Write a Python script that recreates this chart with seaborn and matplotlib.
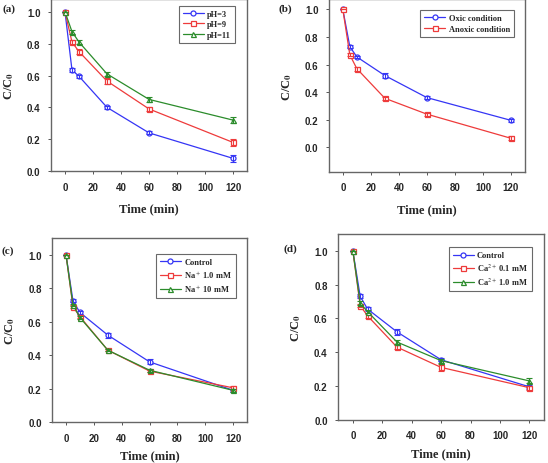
import numpy as np
import pandas as pd
import matplotlib.pyplot as plt
import seaborn as sns

sns.set_style("ticks")
plt.rcParams["font.family"] = ["Liberation Serif", "DejaVu Serif"]
plt.rcParams["mathtext.fontset"] = "stix"

## DATA
time = [0, 5, 10, 30, 60, 120]

# (a) pH effect
ph3 = [1.0, 0.635, 0.595, 0.40, 0.24, 0.08]
ph9 = [1.0, 0.81, 0.75, 0.565, 0.39, 0.18]
ph11 = [1.0, 0.875, 0.81, 0.61, 0.45, 0.32]
ph3_err = [0.0, 0.015, 0.01, 0.01, 0.01, 0.02]
ph9_err = [0.0, 0.015, 0.015, 0.02, 0.01, 0.02]
ph11_err = [0.0, 0.012, 0.01, 0.012, 0.015, 0.02]

# (b) oxic / anoxic
oxic = [1.0, 0.73, 0.655, 0.52, 0.36, 0.195]
anoxic = [1.0, 0.67, 0.57, 0.355, 0.24, 0.065]
oxic_err = [0.0, 0.01, 0.01, 0.015, 0.01, 0.01]
anoxic_err = [0.0, 0.01, 0.015, 0.01, 0.01, 0.015]

# (c) Na+
na_control = [1.0, 0.725, 0.655, 0.52, 0.36, 0.19]
na_1 = [1.0, 0.69, 0.63, 0.43, 0.305, 0.205]
na_10 = [1.0, 0.70, 0.625, 0.43, 0.31, 0.19]
na_control_err = [0.0, 0.01, 0.01, 0.015, 0.015, 0.01]
na_1_err = [0.0, 0.01, 0.01, 0.008, 0.008, 0.008]
na_10_err = [0.0, 0.008, 0.008, 0.008, 0.008, 0.008]

# (d) Ca2+
ca_control = [1.0, 0.73, 0.655, 0.52, 0.355, 0.195]
ca_01 = [1.0, 0.675, 0.615, 0.43, 0.31, 0.19]
ca_1 = [1.0, 0.69, 0.64, 0.46, 0.35, 0.23]
ca_control_err = [0.0, 0.012, 0.012, 0.018, 0.01, 0.01]
ca_01_err = [0.0, 0.01, 0.01, 0.012, 0.02, 0.012]
ca_1_err = [0.0, 0.01, 0.01, 0.01, 0.012, 0.015]

BLUE = "#3535f5"
RED = "#ee3b3b"
GREEN = "#2b8c2b"

panels = [
    {
        "label": "(a)",
        "rect": [0.093, 0.629, 0.358, 0.371],
        "ylim": (0, 1.08),
        "series": [("pH=3", ph3, ph3_err, BLUE, "o"),
                   ("pH=9", ph9, ph9_err, RED, "s"),
                   ("pH=11", ph11, ph11_err, GREEN, "^")],
        "legend_anchor": (0.96, 0.985),
        "label_pos": (0.005, 0.99),
        "xlabelpad": 8,
    },
    {
        "label": "(b)",
        "rect": [0.600, 0.627, 0.358, 0.373],
        "ylim": (-0.18, 1.075),
        "series": [("Oxic condition", oxic, oxic_err, BLUE, "o"),
                   ("Anoxic condition", anoxic, anoxic_err, RED, "s")],
        "legend_anchor": (0.965, 0.96),
        "label_pos": (0.508, 0.99),
        "xlabelpad": 8,
    },
    {
        "label": "(c)",
        "rect": [0.095, 0.088, 0.356, 0.397],
        "ylim": (0, 1.1),
        "series": [("Control", na_control, na_control_err, BLUE, "o"),
                   ("Na$^+$ 1.0 mM", na_1, na_1_err, RED, "s"),
                   ("Na$^+$ 10 mM", na_10, na_10_err, GREEN, "^")],
        "legend_anchor": (0.965, 0.935),
        "label_pos": (0.003, 0.468),
        "xlabelpad": 5,
    },
    {
        "label": "(d)",
        "rect": [0.617, 0.093, 0.376, 0.401],
        "ylim": (0, 1.1),
        "series": [("Control", ca_control, ca_control_err, BLUE, "o"),
                   ("Ca$^{2+}$ 0.1 mM", ca_01, ca_01_err, RED, "s"),
                   ("Ca$^{2+}$ 1.0 mM", ca_1, ca_1_err, GREEN, "^")],
        "legend_anchor": (0.96, 0.95),
        "label_pos": (0.518, 0.473),
        "xlabelpad": 5,
    },
]

xticks = [0, 20, 40, 60, 80, 100, 120]
yticks = [0.0, 0.2, 0.4, 0.6, 0.8, 1.0]

fig = plt.figure(figsize=(5.48, 4.64), dpi=100)

for p in panels:
    ax = fig.add_axes(p["rect"])
    for name, vals, err, color, marker in p["series"]:
        df = pd.DataFrame({"time": time, "value": vals})
        sns.lineplot(data=df, x="time", y="value", ax=ax, color=color, marker=marker,
                     markersize=3.6, mfc="white", mec=color, mew=0.9, linewidth=0.9,
                     label=name)
        ax.errorbar(time, vals, yerr=err, fmt="none", ecolor=color, elinewidth=0.8,
                    capsize=2, capthick=0.8)

    ax.set_xlim(-10, 130)
    ax.set_ylim(*p["ylim"])
    ax.set_xticks(xticks)
    ax.set_yticks(yticks)
    ax.set_xticklabels([str(t) for t in xticks],
                       fontfamily="Liberation Sans", fontweight="bold", fontsize=7)
    ax.set_yticklabels([f"{v:.1f}" for v in yticks],
                       fontfamily="Liberation Sans", fontweight="bold", fontsize=7)
    ax.tick_params(direction="out", length=2.5, width=0.7, color="#555555", pad=5)
    for sp in ax.spines.values():
        sp.set_visible(True)
        sp.set_color("#666666")
        sp.set_linewidth(1.0)

    ax.set_xlabel("Time (min)", fontsize=9, fontweight="bold", labelpad=p["xlabelpad"])
    ax.set_ylabel("C/C$_\\mathbf{0}$", fontsize=9, fontweight="bold", labelpad=8)

    leg = ax.legend(loc="upper right", bbox_to_anchor=p["legend_anchor"],
                    fontsize=6, frameon=True, fancybox=False, handlelength=2.5,
                    borderpad=0.5, labelspacing=0.3, handletextpad=0.4)
    leg.get_frame().set_edgecolor("#444444")
    leg.get_frame().set_linewidth(0.8)
    for t in leg.get_texts():
        t.set_fontweight("bold")

    fig.text(p["label_pos"][0], p["label_pos"][1], p["label"], fontsize=8,
             fontweight="bold", va="top", ha="left")

fig.savefig("out.png", dpi=100)
